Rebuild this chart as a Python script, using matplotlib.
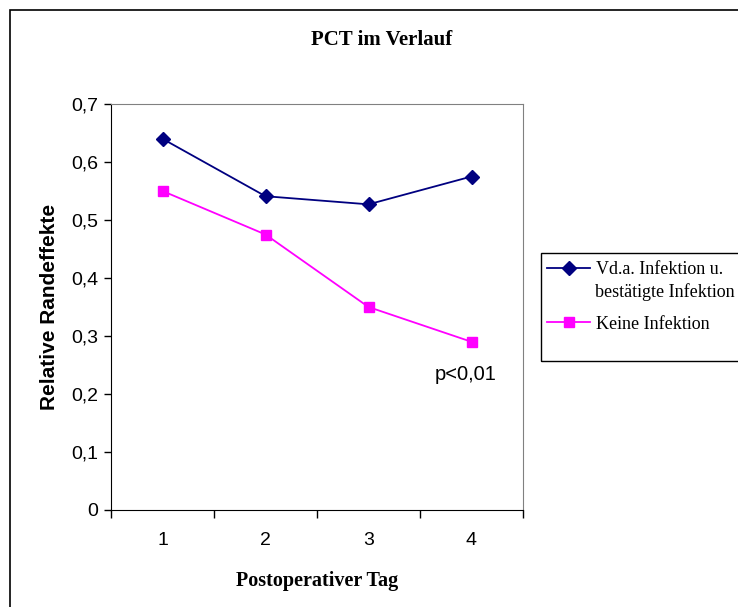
import matplotlib.pyplot as plt
from matplotlib.patches import Rectangle
from matplotlib.ticker import FixedLocator

tage = [1, 2, 3, 4]
verdacht = [0.64, 0.541, 0.527, 0.575]
keine = [0.55, 0.475, 0.35, 0.29]
yticks = [0, 0.1, 0.2, 0.3, 0.4, 0.5, 0.6, 0.7]
ytick_labels = ['0', '0,1', '0,2', '0,3', '0,4', '0,5', '0,6', '0,7']

serif = 'Liberation Serif'
sans = 'Liberation Sans'

fig = plt.figure(figsize=(7.38, 6.07), dpi=100)

# Rahmen um das ganze Diagramm (rechts und unten abgeschnitten)
fig.patches.append(Rectangle((10 / 738, -0.1), 2, 1 - 10 / 607 + 0.1,
                             transform=fig.transFigure, fill=False,
                             edgecolor='black', linewidth=1.2))

ax = fig.add_axes([111 / 738, 1 - 510 / 607, 412 / 738, 406 / 607])

l1, = ax.plot(tage, verdacht, color='#000080', marker='D', markersize=7,
              linewidth=1.3)
l2, = ax.plot(tage, keine, color='#FF00FF', marker='s', markersize=7,
              linewidth=1.3)

ax.set_xlim(0.5, 4.5)
ax.set_ylim(0, 0.7)

# Teilstriche zwischen den Kategorien, Beschriftung in der Mitte
ax.xaxis.set_major_locator(FixedLocator([0.5, 1.5, 2.5, 3.5, 4.5]))
ax.xaxis.set_minor_locator(FixedLocator(tage))
ax.set_xticklabels([])
ax.set_xticklabels([str(t) for t in tage], minor=True)
ax.tick_params(axis='x', which='major', direction='out', length=6, width=1)
ax.tick_params(axis='x', which='minor', length=0, pad=16, labelsize=14)
ax.set_yticks(yticks)
ax.set_yticklabels(ytick_labels)
ax.tick_params(axis='y', direction='out', length=5, width=1, labelsize=14, pad=4)
for lbl in ax.get_xticklabels(minor=True) + ax.get_yticklabels():
    lbl.set_fontfamily(sans)

ax.spines['top'].set_color('#808080')
ax.spines['right'].set_color('#808080')
ax.spines['left'].set_color('black')
ax.spines['bottom'].set_color('black')

ax.set_xlabel('Postoperativer Tag', fontfamily=serif, fontweight='bold',
              fontsize=14.5, labelpad=16)
ax.set_ylabel('Relative Randeffekte', fontfamily=sans, fontweight='bold',
              fontsize=15, labelpad=9)

ax.text(3.94, 0.233, 'p<0,01', fontfamily=sans, fontsize=14.5, ha='center',
        va='center')

fig.text(382 / 738, 1 - 40 / 607, 'PCT im Verlauf', fontfamily=serif,
         fontweight='bold', fontsize=15, ha='center', va='center')

# Legende: Kasten separat, zweite Zeile des ersten Eintrags als eigener Text
fig.patches.append(Rectangle((541 / 738, 1 - 361 / 607), 1, 108 / 607,
                             transform=fig.transFigure, fill=False,
                             edgecolor='black', linewidth=1.0))
leg = ax.legend([l1, l2], ['Vd.a. Infektion u.', 'Keine Infektion'],
                loc='upper left', bbox_to_anchor=(547 / 738, 1 - 261 / 607),
                bbox_transform=fig.transFigure, frameon=False,
                prop={'family': serif, 'size': 13}, handlelength=2.4,
                handletextpad=0.3, borderpad=0, borderaxespad=0,
                labelspacing=2.08)
fig.text(595 / 738, 1 - 292 / 607, 'bestätigte Infektion', fontfamily=serif,
         fontsize=13, ha='left', va='center')

fig.savefig('out.png', dpi=100)
